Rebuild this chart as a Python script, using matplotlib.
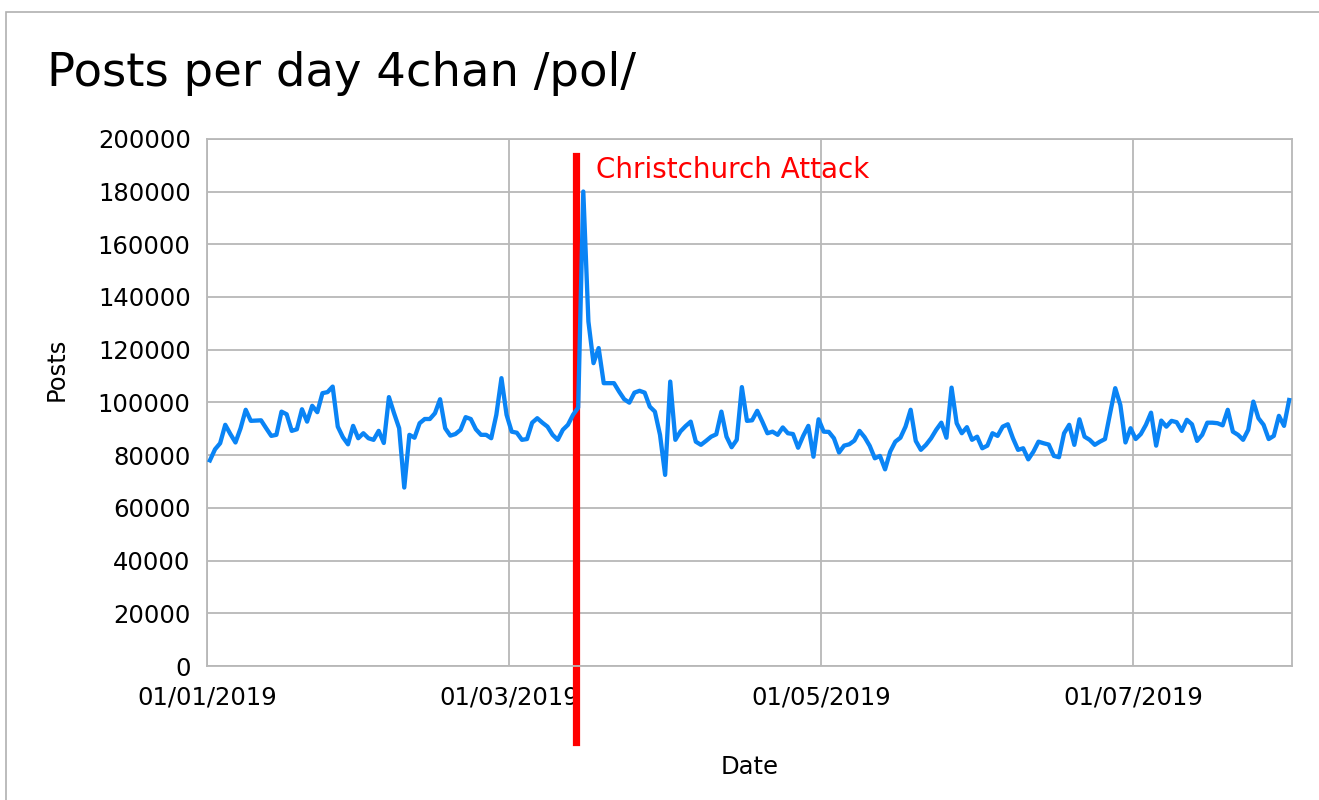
import pandas as pd
import matplotlib
matplotlib.use("Agg")
import matplotlib.pyplot as plt
import matplotlib.dates as mdates
from matplotlib.patches import Rectangle

plt.rcParams['font.family'] = ['DejaVu Sans']

# daily post counts, 01/01/2019 - 31/07/2019
start_date = "2019-01-01 12:00"
posts = [
    78000, 82200, 84500, 91500, 88000, 84800, 90200, 97200, 93000, 93100,
    93200, 90200, 87300, 87700, 96500, 95500, 89200, 89800, 97400, 92700,
    98700, 96300, 103500, 103900, 106000, 90800, 86800, 84100, 91100, 86400,
    88300, 86400, 85800, 89200, 84600, 102000, 95900, 90200, 67700, 87700,
    86600, 92100, 93700, 93700, 95900, 101200, 90200, 87400, 88000, 89600,
    94400, 93700, 89800, 87700, 87700, 86400, 95300, 109200, 95300, 88900,
    88500, 85800, 86100, 92300, 94000, 92300, 90800, 87700, 85800, 89600,
    91500, 95300, 98000, 180000, 130700, 114900, 120600, 107300, 107300, 107300,
    104100, 101200, 99900, 103700, 104400, 103700, 98400, 96500, 87700, 72500,
    107900, 85800, 89000, 91000, 92700, 85100, 83900, 85400, 87000, 87900,
    96500, 87000, 83000, 85800, 105800, 93000, 93200, 96800, 92700, 88300,
    88900, 87700, 90500, 88300, 88000, 82800, 87300, 91100, 79400, 93600,
    88900, 88800, 86400, 81000, 83600, 84100, 85500, 89200, 86800, 83500,
    78800, 79700, 74600, 81300, 85100, 86600, 90800, 97200, 85400, 82000,
    83900, 86400, 89600, 92300, 86600, 105600, 92100, 88300, 90600, 85800,
    87000, 82600, 83600, 88300, 87300, 90800, 91700, 86400, 82000, 82600,
    78400, 81300, 85100, 84500, 84000, 79700, 79200, 88300, 91500, 83900,
    93600, 87000, 85800, 83900, 85100, 86100, 95900, 105400, 99000, 84800,
    90200, 86100, 88000, 91500, 96100, 83600, 93100, 90800, 93000, 92500,
    89200, 93400, 91700, 85400, 87700, 92300, 92300, 92100, 91300, 97200,
    88900, 87700, 85800, 89600, 100300, 94000, 91500, 86100, 87300, 94900,
    91100, 100900,
]
dates = pd.date_range(start_date, periods=len(posts), freq="D")

x_range = ["2019-01-01", "2019-08-01"]
y_ticks = list(range(0, 200001, 20000))
attack_date = "2019-03-14 02:00"
attack_label = "Christchurch Attack"

grid_col = "#b8b8b8"

fig = plt.figure(figsize=(13.19, 8), dpi=100)
ax = fig.add_axes([0.1572, 0.1675, 0.8221, 0.659])

ax.plot(dates, posts, color="#0a84f5", linewidth=3.1, solid_joinstyle="round",
        zorder=3)

ax.set_xlim(pd.Timestamp(x_range[0]), pd.Timestamp(x_range[1]))
ax.set_ylim(0, 200000)
ax.set_yticks(y_ticks)
ax.xaxis.set_major_locator(mdates.MonthLocator(bymonth=[1, 3, 5, 7]))
ax.xaxis.set_major_formatter(mdates.DateFormatter("%d/%m/%Y"))

ax.grid(True, color=grid_col, linewidth=1.3)
ax.set_axisbelow(True)
for s in ax.spines.values():
    s.set_color(grid_col)
    s.set_linewidth(1.3)
ax.tick_params(axis="y", length=0, pad=12, labelsize=17.5)
ax.tick_params(axis="x", length=0, pad=14, labelsize=17.5)

ax.set_xlabel("Date", fontsize=17.5, va="center")
ax.xaxis.set_label_coords(0.5, (666 - 766.5) / 527)
ax.set_ylabel("Posts", fontsize=17.5, va="center")
ax.yaxis.set_label_coords((57 - 207.3) / 1084.4, 0.562)

# attack marker
ax.axvline(pd.Timestamp(attack_date), ymin=-0.144, ymax=0.968, color="#ff0000",
           linewidth=5.2, clip_on=False, zorder=2)
ax.text(pd.Timestamp(attack_date) + pd.Timedelta(days=3.9), 188000, attack_label,
        color="#ff0000", fontsize=20, va="center", ha="left")

fig.text(47 / 1319, 1 - 86 / 800, "Posts per day 4chan /pol/", fontsize=33.5,
         va="baseline", ha="left")

# chart frame
fig.patches.append(Rectangle((6 / 1319, -0.01), 1.05, 1 - 11.7 / 800 + 0.01,
                             transform=fig.transFigure, fill=False,
                             edgecolor="#b0b0b0", linewidth=1.2))

plt.savefig("out.png", dpi=100)
